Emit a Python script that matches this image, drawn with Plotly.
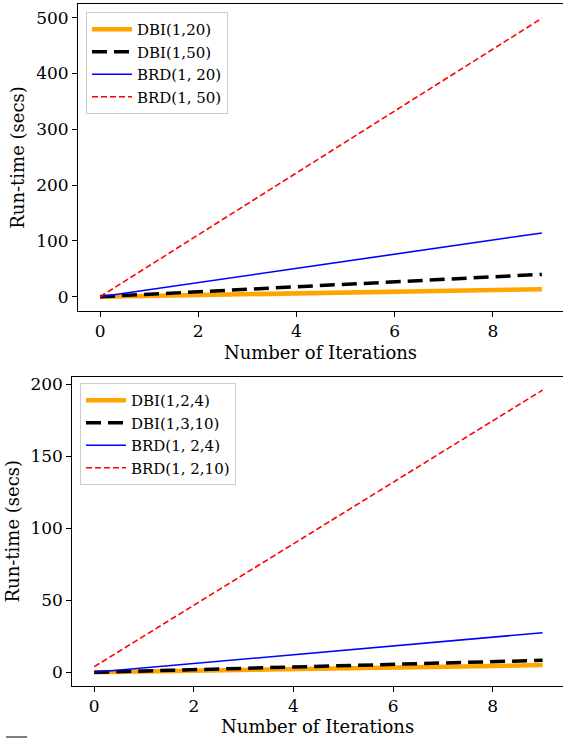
import plotly.graph_objects as go

W, H = 563, 742

iterations = [0, 1, 2, 3, 4, 5, 6, 7, 8, 9]

# Top panel
top_names = ["DBI(1,20)", "DBI(1,50)", "BRD(1, 20)", "BRD(1, 50)"]
dbi_1_20 = [0, 1.5, 3, 4.5, 6, 7.5, 9, 10.5, 12, 13.3]
dbi_1_50 = [0, 4.5, 9, 13.5, 18, 22.5, 27, 31.5, 36, 40]
brd_1_20 = [0, 12.7, 25.4, 38.1, 50.8, 63.5, 76.2, 88.9, 101.6, 114.3]
brd_1_50 = [0, 55.4, 110.9, 166.3, 221.8, 277.2, 332.7, 388.1, 443.6, 499]

# Bottom panel
bot_names = ["DBI(1,2,4)", "DBI(1,3,10)", "BRD(1, 2,4)", "BRD(1, 2,10)"]
dbi_1_2_4 = [0, 0.55, 1.1, 1.65, 2.2, 2.75, 3.3, 3.85, 4.4, 5.0]
dbi_1_3_10 = [0, 0.9, 1.8, 2.7, 3.6, 4.5, 5.4, 6.3, 7.2, 8.3]
brd_1_2_4 = [0, 3.05, 6.1, 9.15, 12.2, 15.25, 18.3, 21.35, 24.4, 27.5]
brd_1_2_10 = [3.9, 25.2, 46.5, 67.9, 89.2, 110.5, 131.8, 153.2, 174.5, 196]

top_ticks = [0, 100, 200, 300, 400, 500]
bot_ticks = [0, 50, 100, 150, 200]
x_ticks = [0, 2, 4, 6, 8]

FONT = "DejaVu Serif"
styles = [
    dict(color="#FFA500", width=4.5, dash="solid"),
    dict(color="black", width=3.5, dash="15px,7px"),
    dict(color="#0000FF", width=1.6, dash="solid"),
    dict(color="#FF0000", width=1.6, dash="6px,3px"),
]

fig = go.Figure()
for name, ys, st in zip(top_names, [dbi_1_20, dbi_1_50, brd_1_20, brd_1_50], styles):
    fig.add_trace(go.Scatter(x=iterations, y=ys, mode="lines", name=name, line=st,
                             xaxis="x", yaxis="y", legend="legend"))
for name, ys, st in zip(bot_names, [dbi_1_2_4, dbi_1_3_10, brd_1_2_4, brd_1_2_10], styles):
    fig.add_trace(go.Scatter(x=iterations, y=ys, mode="lines", name=name, line=st,
                             xaxis="x2", yaxis="y2", legend="legend2"))

axis_common = dict(showline=True, linecolor="black", linewidth=1, ticks="outside",
                   ticklen=5, tickwidth=1, tickcolor="black", showgrid=False, zeroline=False,
                   automargin=False,
                   tickfont=dict(family=FONT, size=17, color="black"))
title_font = dict(family=FONT, size=18, color="black")
legend_common = dict(xanchor="left", yanchor="top",
                     bgcolor="rgba(255,255,255,0.8)", bordercolor="#cccccc", borderwidth=1,
                     font=dict(family=FONT, size=15, color="black"), itemwidth=40,
                     tracegroupgap=0)

fig.update_layout(
    width=W, height=H, autosize=False,
    margin=dict(l=0, r=0, t=0, b=0, autoexpand=False),
    plot_bgcolor="white", paper_bgcolor="white",
    font=dict(family=FONT, color="black"),
    xaxis=dict(domain=[78 / W, 1], range=[-0.45, 9.43], tickvals=x_ticks, mirror=True,
               anchor="y", title=dict(text="Number of Iterations", font=title_font, standoff=5),
               **axis_common),
    yaxis=dict(domain=[1 - 311 / H, 1 - 4 / H], range=[-25.6, 524.5], tickvals=top_ticks,
               anchor="x", title=dict(text="Run-time (secs)", font=title_font, standoff=6),
               **axis_common),
    xaxis2=dict(domain=[72.3 / W, 1], range=[-0.44, 9.41], tickvals=x_ticks, mirror=True,
                anchor="y2", title=dict(text="Number of Iterations", font=title_font, standoff=5),
                **axis_common),
    yaxis2=dict(domain=[1 - 685.7 / H, 1 - 376.7 / H], range=[-9.3, 205.3], tickvals=bot_ticks,
                anchor="x2", title=dict(text="Run-time (secs)", font=title_font, standoff=6),
                **axis_common),
    legend=dict(x=86 / W, y=1 - 12 / H, **legend_common),
    legend2=dict(x=80 / W, y=1 - 383 / H, **legend_common),
    showlegend=True,
    shapes=[dict(type="line", xref="paper", yref="paper", x0=6 / W, x1=27 / W,
                 y0=1 - 737 / H, y1=1 - 737 / H, line=dict(color="black", width=1))],
)

fig.write_html("out.html", config={"displayModeBar": False},
               post_script="document.body.style.margin='0px';")
